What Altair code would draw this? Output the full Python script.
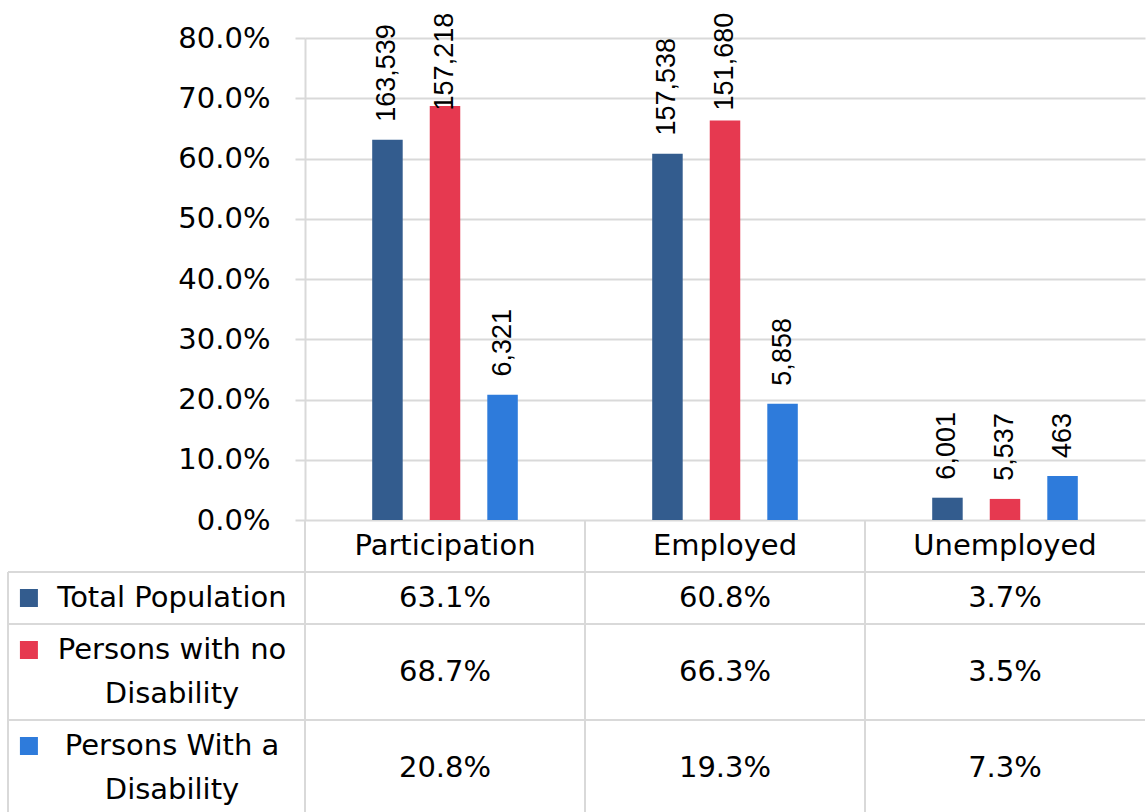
import altair as alt
import pandas as pd

# ---- data -------------------------------------------------------------
categories = ["Participation", "Employed", "Unemployed"]
series = ["Total Population", "Persons with no Disability", "Persons With a Disability"]
series_labels = ["Total Population", "Persons with no\nDisability", "Persons With a\nDisability"]
colors = ["#335C8E", "#E63950", "#2E7BDB"]

rate_total = [0.631, 0.608, 0.037]
rate_no_disability = [0.687, 0.663, 0.035]
rate_disability = [0.208, 0.193, 0.073]

count_total = [163539, 157538, 6001]
count_no_disability = [157218, 151680, 5537]
count_disability = [6321, 5858, 463]

rates = [rate_total, rate_no_disability, rate_disability]
counts = [count_total, count_no_disability, count_disability]

# ---- styling ----------------------------------------------------------
FONT = "DejaVu Sans"
LABEL_FONT = "Liberation Sans"
FS = 29
GRID = "#d9d9d9"
PLOT_W = 840
PLOT_H = 482
LINE_H = 44          # line height of table text
ROW_PAD = 8          # extra space in each table row
LEG_LEFT = -297 / 280    # left border of the legend column, in column units
LEG_TEXT = -0.475        # centre of legend text, in column units
LEG_KEY = -0.986         # centre of legend key, in column units

# ---- long table for bars ---------------------------------------------
rows = []
for si, s in enumerate(series):
    for ci, c in enumerate(categories):
        rows.append({"category": c, "series": s, "rate": rates[si][ci], "count": counts[si][ci]})
df = pd.DataFrame(rows)

x_enc = alt.X("category:N", sort=categories, axis=None,
              scale=alt.Scale(paddingInner=0.48, paddingOuter=0.24))
xo_enc = alt.XOffset("series:N", sort=series,
                     scale=alt.Scale(paddingInner=0.47, paddingOuter=0))
y_scale = alt.Scale(domain=[0, 0.8], nice=False, zero=True)
y_axis = alt.Axis(values=[0, 0.1, 0.2, 0.3, 0.4, 0.5, 0.6, 0.7, 0.8], format=".1%",
                  grid=True, gridColor=GRID, gridWidth=2,
                  domainColor=GRID, domainWidth=2,
                  tickColor=GRID, tickWidth=2, tickSize=10,
                  labelFont=FONT, labelFontSize=FS, labelColor="#000",
                  labelPadding=25)
color_enc = alt.Color("series:N", sort=series,
                      scale=alt.Scale(domain=series, range=colors), legend=None)

bars = alt.Chart(df).mark_bar().encode(
    x=x_enc,
    xOffset=xo_enc,
    y=alt.Y("rate:Q", scale=y_scale, title=None, axis=y_axis),
    color=color_enc,
)

# count labels sit above each bar, pulled down when they would run off the top
value_labels = alt.Chart(df).transform_calculate(
    label="format(datum.count, ',')",
    pos="min(datum.rate + 0.03, 0.8415 - length(format(datum.count, ',')) * 0.0231)",
).mark_text(angle=270, align="left", baseline="middle",
            font=LABEL_FONT, fontSize=27, color="#000").encode(
    x=x_enc,
    xOffset=xo_enc,
    y=alt.Y("pos:Q", scale=y_scale, title=None, axis=y_axis),
    text="label:N",
)

top = alt.layer(bars, value_labels).properties(width=PLOT_W, height=PLOT_H)

# ---- data table -------------------------------------------------------
line_counts = [1] + [lbl.count("\n") + 1 for lbl in series_labels]
heights = [ROW_PAD + LINE_H * n for n in line_counts]
tops = [sum(heights[:i]) for i in range(len(heights))]
table_h = sum(heights)

cells = []
for si, s in enumerate(series):
    r = si + 1
    for ci, c in enumerate(categories):
        cells.append({"x": ci + 0.5, "y": tops[r] + heights[r] / 2,
                      "text": f"{rates[si][ci] * 100:.1f}%"})
cells_df = pd.DataFrame(cells)

header_df = pd.DataFrame({"x": [i + 0.5 for i in range(len(categories))],
                          "y": [heights[0] / 2] * len(categories),
                          "text": categories})

# first text line of each legend cell: the key square sits on it as well
first_line = [tops[i + 1] + heights[i + 1] / 2 - (line_counts[i + 1] - 1) * LINE_H / 2
              for i in range(len(series))]
legend_df = pd.DataFrame({
    "series": series,
    "text": series_labels,
    "x": [LEG_TEXT] * len(series),
    "kx": [LEG_KEY] * len(series),
    "y": first_line,
})

# table borders
hlines = pd.DataFrame({"x": [LEG_LEFT] * 3, "x2": [3] * 3, "y": tops[1:]})
vlines = pd.DataFrame({"x": [0, 1, 2, LEG_LEFT],
                       "y": [0, 0, 0, tops[1]],
                       "y2": [table_h] * 4})

tx = alt.Scale(domain=[0, 3], nice=False, zero=False)
ty = alt.Scale(domain=[0, table_h], nice=False, zero=False, reverse=True)

h_rules = alt.Chart(hlines).mark_rule(color=GRID, strokeWidth=2).encode(
    x=alt.X("x:Q", scale=tx, axis=None), x2="x2:Q",
    y=alt.Y("y:Q", scale=ty, axis=None))
v_rules = alt.Chart(vlines).mark_rule(color=GRID, strokeWidth=2).encode(
    x=alt.X("x:Q", scale=tx, axis=None),
    y=alt.Y("y:Q", scale=ty, axis=None), y2="y2:Q")

text_style = dict(font=FONT, fontSize=FS, color="#000", align="center", baseline="middle")
cell_text = alt.Chart(cells_df).mark_text(**text_style).encode(
    x=alt.X("x:Q", scale=tx, axis=None), y=alt.Y("y:Q", scale=ty, axis=None), text="text:N")
header_text = alt.Chart(header_df).mark_text(**text_style).encode(
    x=alt.X("x:Q", scale=tx, axis=None), y=alt.Y("y:Q", scale=ty, axis=None), text="text:N")
legend_text = alt.Chart(legend_df).mark_text(lineBreak="\n", lineHeight=LINE_H, **text_style).encode(
    x=alt.X("x:Q", scale=tx, axis=None), y=alt.Y("y:Q", scale=ty, axis=None), text="text:N")
legend_keys = alt.Chart(legend_df).mark_point(shape="square", filled=True, size=324, opacity=1).encode(
    x=alt.X("kx:Q", scale=tx, axis=None), y=alt.Y("y:Q", scale=ty, axis=None),
    color=alt.Color("series:N", sort=series,
                    scale=alt.Scale(domain=series, range=colors), legend=None))

bottom = alt.layer(h_rules, v_rules, header_text, cell_text, legend_text, legend_keys).properties(
    width=PLOT_W, height=table_h)

chart = alt.vconcat(top, bottom, spacing=0, bounds="flush").properties(
    padding={"left": 7, "top": 12, "right": 0, "bottom": 0}
).configure_view(stroke=None)

chart.save("out.html", embed_options={"renderer": "svg", "actions": False})
